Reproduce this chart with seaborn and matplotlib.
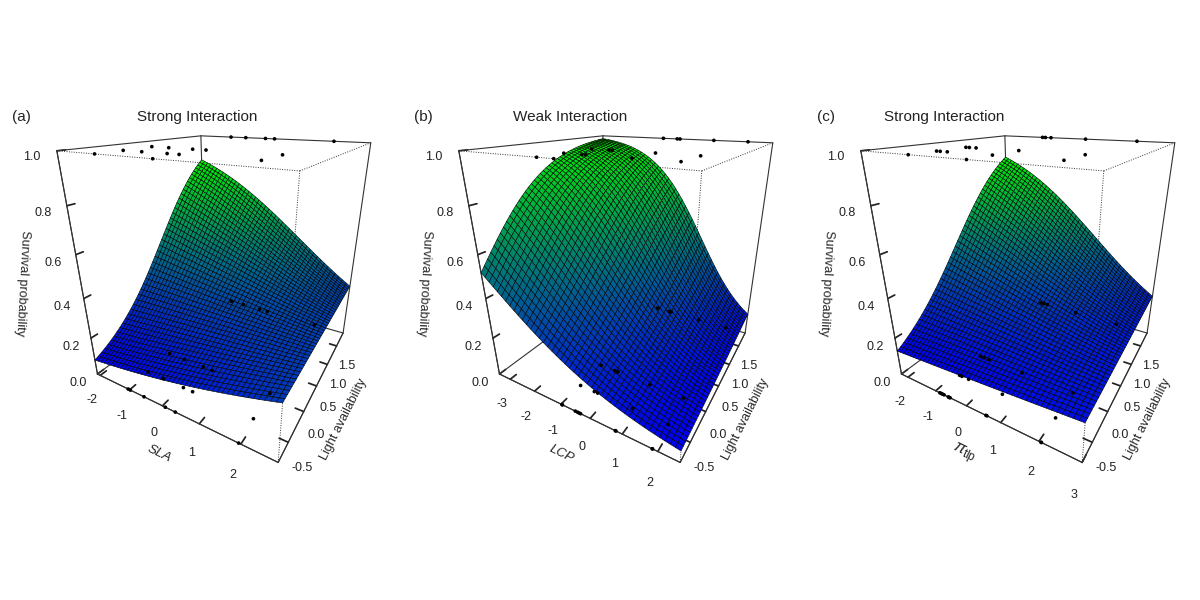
import numpy as np
import seaborn as sns
import matplotlib
matplotlib.use("Agg")
import matplotlib.pyplot as plt

sns.set_theme(style="white")
plt.rcParams['font.family'] = ['Liberation Sans', 'DejaVu Sans']
plt.rcParams['mathtext.fontset'] = 'custom'
plt.rcParams['mathtext.rm'] = 'Liberation Sans'
plt.rcParams['mathtext.it'] = 'Liberation Sans:italic'

# axis ranges of the fitted surfaces
light_range = [-0.78, 1.90]
sla_range = [-2.10, 2.80]
lcp_range = [-3.47, 2.58]
tlp_range = [-2.25, 3.00]

# logistic coefficients: intercept, trait, light, trait x light
sla_coef = [-1.085, 0.044, 0.940, -0.324]
lcp_coef = [-0.931, -0.637, 0.833, -0.203]
tlp_coef = [-1.029, -0.123, 0.883, -0.261]

# observed seedlings (trait value, light availability, survived)
sla_obs = [-1.05, -0.98, -0.55, 0.08, 0.36, 1.95,
           -1.05, -0.56, 0.06, 0.33, 1.93,
           -1.05, -0.55, 0.05, 0.32, 1.93,
           -1.03, -0.56, 0.05, 0.33, 1.92,
           -1.05, 0.31,
           -1.05, -0.57, 0.04, 0.31, 1.92,
           -1.08, -0.62, -0.01, 0.31, 1.92,
           -1.05, -0.57, 0.04, 0.31, 1.92]
sla_light = [-0.78] * 6 + [-0.40] * 5 + [0.07] * 5 + [1.90] * 5 + \
            [-0.78] * 2 + [-0.40] * 5 + [0.07] * 5 + [1.90] * 5
sla_surv = [0] * 21 + [1] * 17

lcp_obs = [-0.97, -0.95, -0.50, -0.42, -0.37, -0.32, 0.79, 0.81, 1.85, 1.86,
           -0.98, -0.48, -0.36, 0.80, 1.88,
           -0.97, -0.46, -0.36, -0.34, 0.79, 1.87,
           -1.00, -0.47, -0.39, 0.79, 1.87,
           -0.98, -0.52,
           -0.98, -0.47, -0.37, 0.79, 1.86,
           -0.98, -0.47, -0.37, 0.79, 1.86,
           -0.98, -0.47, -0.37, 0.79, 1.86]
lcp_light = [-0.78] * 10 + [-0.40] * 5 + [0.07] * 6 + [1.90] * 5 + \
            [-0.78] * 2 + [-0.40] * 5 + [0.07] * 5 + [1.90] * 5
lcp_surv = [0] * 26 + [1] * 17

tlp_obs = [-0.86, -0.81, -0.77, -0.72, -0.58, -0.55, -0.52, 0.58, 0.61, 2.05, 2.06,
           -0.86, -0.78, -0.55, 0.53, 2.02,
           -0.86, -0.74, -0.57, 0.54, 2.03,
           -0.87, -0.75, -0.60, 0.53, 1.99,
           -0.86, 0.55,
           -0.86, -0.76, -0.57, 0.55, 2.03,
           -0.86, -0.76, -0.57, 0.55, 2.03,
           -0.86, -0.76, -0.57, 0.55, 2.03]
tlp_light = [-0.78] * 11 + [-0.40] * 5 + [0.07] * 5 + [1.90] * 5 + \
            [-0.78] * 2 + [-0.40] * 5 + [0.07] * 5 + [1.90] * 5
tlp_surv = [0] * 26 + [1] * 17

panels = [
    ("(a)", "Strong Interaction", "SLA", sla_range, sla_coef,
     sla_obs, sla_light, sla_surv, [-2, -1, 0, 1, 2]),
    ("(b)", "Weak Interaction", "LCP", lcp_range, lcp_coef,
     lcp_obs, lcp_light, lcp_surv, [-3, -2, -1, 0, 1, 2]),
    ("(c)", "Strong Interaction", r"$\pi_{\rm tlp}$", tlp_range, tlp_coef,
     tlp_obs, tlp_light, tlp_surv, [-2, -1, 0, 1, 2, 3]),
]

cmap = sns.blend_palette(["#0000f0", "#00f000"], as_cmap=True)


def draw_box(ax, xr, yr, zr):
    """Box edges: back ones solid, the ones round the front top corner dotted."""
    x0, x1 = xr
    y0, y1 = yr
    z0, z1 = zr
    solid = [
        ([x0, x1], [y0, y0], [z0, z0]), ([x1, x1], [y0, y1], [z0, z0]),
        ([x0, x0], [y0, y1], [z0, z0]), ([x0, x1], [y1, y1], [z0, z0]),
        ([x0, x0], [y0, y0], [z0, z1]), ([x0, x0], [y1, y1], [z0, z1]),
        ([x1, x1], [y1, y1], [z0, z1]),
        ([x0, x0], [y0, y1], [z1, z1]), ([x0, x1], [y1, y1], [z1, z1]),
    ]
    dotted = [
        ([x0, x1], [y0, y0], [z1, z1]), ([x1, x1], [y0, y1], [z1, z1]),
        ([x1, x1], [y0, y0], [z0, z1]),
    ]
    for xs, ys, zs in solid:
        ax.plot(xs, ys, zs, color="#333333", lw=0.8, zorder=1)
    for xs, ys, zs in dotted:
        ax.plot(xs, ys, zs, color="#333333", lw=0.7, ls=(0, (1, 1.5)), zorder=1)


fig = plt.figure(figsize=(12, 6), dpi=100)

for i, (tag, title, xlabel, xr, coef, obs, light, surv, xticks) in enumerate(panels):
    ax = fig.add_axes([0.015 + i * 0.335, 0.185, 0.345, 0.74], projection="3d",
                      computed_zorder=False)
    ax.view_init(elev=23, azim=-60)
    ax.set_proj_type("persp", focal_length=0.16)
    ax.set_box_aspect((1, 1, 1.1), zoom=0.84)

    xs = np.linspace(xr[0], xr[1], 45)
    ys = np.linspace(light_range[0], light_range[1], 45)
    X, Y = np.meshgrid(xs, ys)
    eta = coef[0] + coef[1] * X + coef[2] * Y + coef[3] * X * Y
    Z = 1.0 / (1.0 + np.exp(-eta))
    fc = cmap((Z - Z.min()) / (Z.max() - Z.min()))

    draw_box(ax, xr, light_range, [0, 1])
    ax.plot_surface(X, Y, Z, facecolors=fc, rstride=1, cstride=1,
                    edgecolor="black", linewidth=0.4, shade=False,
                    antialiased=True, zorder=2)
    ax.scatter(obs, light, surv, color="black", s=7, depthshade=False,
               edgecolors="none", zorder=3)

    ax.set_xlim(xr)
    ax.set_ylim(light_range)
    ax.set_zlim(0, 1)
    ax.set_xticks(xticks)
    ax.set_xticklabels([str(t) for t in xticks])
    ax.set_yticks([-0.5, 0.0, 0.5, 1.0, 1.5])
    ax.set_yticklabels(["-0.5", "0.0", "0.5", "1.0", "1.5"])
    ax.set_zticks([0.0, 0.2, 0.4, 0.6, 0.8, 1.0])
    ax.set_zticklabels(["0.0", "0.2", "0.4", "0.6", "0.8", "1.0"])
    ax.zaxis.set_ticks_position("lower")
    ax.zaxis.set_label_position("lower")

    ax.grid(False)
    for axis in (ax.xaxis, ax.yaxis, ax.zaxis):
        axis.set_pane_color((1, 1, 1, 0))
        axis.pane.set_edgecolor((1, 1, 1, 0))
        axis.line.set_color("#333333")
        axis.line.set_linewidth(0.8)
        axis._axinfo["tick"]["inward_factor"] = 0.0
        axis._axinfo["tick"]["outward_factor"] = 0.5
        axis._axinfo["tick"]["color"] = "#333333"
    ax.tick_params(axis="both", labelsize=9, colors="#222222", pad=2)

    if xlabel in ("SLA", "LCP"):
        ax.set_xlabel(xlabel, fontsize=9.5, fontstyle="italic", labelpad=-2)
    else:
        ax.set_xlabel(xlabel, fontsize=12, labelpad=-2)
    ax.xaxis.set_rotate_label(True)
    ax.set_ylabel("Light availability", fontsize=9, labelpad=2)
    ax.zaxis.set_rotate_label(False)
    ax.set_zlabel("Survival probability", fontsize=9, rotation=-93, labelpad=5)

    fig.text(0.01 + i * 0.3353, 0.805, tag, fontsize=11, color="#222222",
             ha="left", va="center")
    fig.text(0.164 + i * 0.3115, 0.805, title, fontsize=11, color="#222222",
             ha="center", va="center")

fig.savefig("out.png", dpi=100)
